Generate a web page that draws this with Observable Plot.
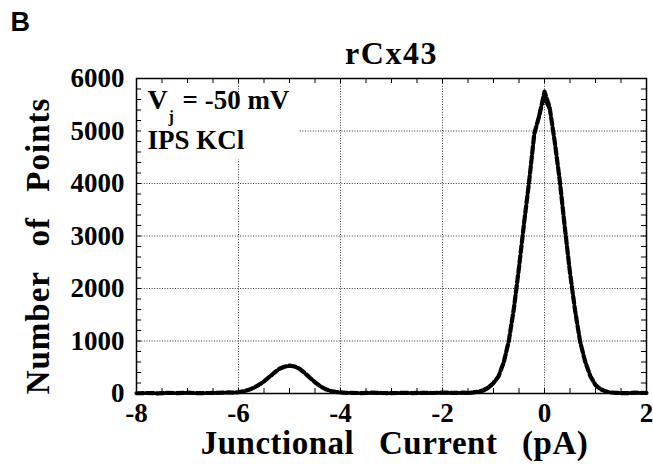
<!DOCTYPE html>
<html><head><meta charset="utf-8">
<script src="https://cdn.jsdelivr.net/npm/d3@7"></script>
<script src="https://cdn.jsdelivr.net/npm/@observablehq/plot@0.6"></script>
<style>
html,body{margin:0;padding:0;background:#fff;}
</style>
</head><body><div id="chart"></div>
<script>
// Junctional current (pA)
const current = [-8.0,-7.8,-7.6,-7.4,-7.2,-7.0,-6.8,-6.6,-6.4,-6.2,
  -6.1,-6.0,-5.9,-5.8,-5.7,-5.6,-5.5,-5.4,-5.3,-5.2,-5.1,-5.0,-4.9,-4.8,-4.7,-4.6,-4.5,-4.4,-4.3,-4.2,-4.1,-4.0,-3.9,
  -3.8,-3.6,-3.4,-3.2,-3.0,-2.8,-2.6,-2.4,-2.2,-2.0,-1.8,-1.6,
  -1.5,-1.4,-1.3,-1.2,-1.1,-1.0,-0.9,-0.8,-0.7,-0.6,-0.5,-0.4,-0.3,-0.2,-0.1,0.0,0.1,0.2,0.3,0.4,0.5,0.6,0.7,0.8,0.9,1.0,1.1,1.2,1.3,1.4,1.5,
  1.6,1.8,2.0];
// Measured histogram (number of points)
const counts = [5,10,3,12,8,15,6,10,14,20,
  15,25,40,70,110,165,230,310,395,470,510,530,515,470,390,300,215,140,85,50,30,20,12,
  12,8,15,10,6,12,9,14,10,18,12,15,
  10,20,35,60,120,200,330,590,1000,1620,2400,3250,4050,4950,5300,5750,5450,4800,4050,3150,2300,1580,980,600,330,160,80,40,20,12,8,
  6,15,10];
// Fitted curve
const fit = [0,0,0,0,0,0,0,0,1,4,
  8,16,31,57,95,150,219,299,381,453,502,520,502,453,381,299,219,150,95,57,31,16,8,
  4,1,0,0,0,0,0,0,0,0,0,0,
  2,6,16,38,84,175,338,608,1021,1607,2349,3209,4085,4860,5390,5580,5390,4860,4085,3209,2349,1607,1021,608,338,175,84,38,16,6,2,
  0,0,0];

const xTicks = [-8,-6,-4,-2,0,2];
const yTicks = [0,1000,2000,3000,4000,5000,6000];
const xGrid = [-6,-4,-2,0];
const yGrid = [1000,2000,3000,4000,5000];
const xMinor = [-8,-7.5,-7,-6.5,-6,-5.5,-5,-4.5,-4,-3.5,-3,-2.5,-2,-1.5,-1,-0.5,0,0.5,1,1.5,2];
const yMinor = [0,200,400,600,800,1000,1200,1400,1600,1800,2000,2200,2400,2600,2800,3000,3200,3400,3600,3800,4000,4200,4400,4600,4800,5000,5200,5400,5600,5800,6000];

const panelLabel = "B";
const title = "rCx43";
const xLabel = "Junctional Current (pA)";
const yLabel = "Number of Points";
const legendV = "V", legendSub = "j", legendRest = "= -50 mV", legendLine2 = "IPS KCl";
const legendBox = [{x1: -8, x2: -4.8, y1: 4450, y2: 5650}];

const rows = current.map((c, i) => ({current: c, counts: counts[i], fit: fit[i]}));
const serif = "'Liberation Serif','Times New Roman',serif";
const T = d => d;
const fmt = d => String(d);

const plot = Plot.plot({
  width: 653, height: 464,
  marginLeft: 136, marginRight: 7, marginTop: 78, marginBottom: 71,
  style: {fontFamily: serif, background: "white", color: "black", overflow: "visible"},
  x: {domain: [-8, 2]},
  y: {domain: [0, 6000]},
  marks: [
    Plot.gridX(xGrid, {stroke: "#000", strokeOpacity: 0.8, strokeDasharray: "1,1.6", strokeWidth: 1}),
    Plot.gridY(yGrid, {stroke: "#000", strokeOpacity: 0.8, strokeDasharray: "1,1.6", strokeWidth: 1}),
    Plot.rect(legendBox, {x1: "x1", x2: "x2", y1: "y1", y2: "y2", fill: "white"}),
    Plot.ruleX(xMinor, {y1: 0, y2: 95, stroke: "black"}),
    Plot.ruleX(xMinor, {y1: 5905, y2: 6000, stroke: "black"}),
    Plot.ruleY(yMinor, {x1: -8, x2: -7.9, stroke: "black"}),
    Plot.ruleY(yMinor, {x1: 1.9, x2: 2, stroke: "black"}),
    Plot.line(rows, {x: "current", y: "fit", stroke: "black", strokeWidth: 2}),
    Plot.line(rows, {x: "current", y: "counts", stroke: "black", strokeWidth: 4.2, strokeDasharray: "7,3"}),
    Plot.frame({stroke: "black", strokeWidth: 1.5}),
    Plot.axisX(xTicks, {tickSize: 0, tickPadding: 9, fontSize: 27, fontWeight: "bold", label: null, tickFormat: fmt}),
    Plot.axisY(yTicks, {tickSize: 0, tickPadding: 12, fontSize: 27, fontWeight: "bold", label: null, tickFormat: fmt}),
    Plot.text([title], {text: T, frameAnchor: "top", dy: -25, fontSize: 32, fontWeight: "bold", lineAnchor: "middle"}),
    Plot.text([panelLabel], {text: T, frameAnchor: "top-left", dx: -126, dy: -56, textAnchor: "start", lineAnchor: "middle", fontSize: 27, fontWeight: "bold", fontFamily: "'Liberation Sans',Arial,sans-serif"}),
    Plot.text([yLabel], {text: T, frameAnchor: "left", dx: -98, dy: 10, rotate: -90, textAnchor: "middle", fontSize: 33, fontWeight: "bold", lineAnchor: "middle"}),
    Plot.text([xLabel], {text: T, frameAnchor: "bottom", dx: 3, dy: 50, textAnchor: "middle", fontSize: 33, fontWeight: "bold", lineAnchor: "middle"}),
    Plot.text([legendV], {text: T, frameAnchor: "top-left", dx: 11, dy: 22, textAnchor: "start", lineAnchor: "middle", fontSize: 28, fontWeight: "bold"}),
    Plot.text([legendSub], {text: T, frameAnchor: "top-left", dx: 32, dy: 38, textAnchor: "start", lineAnchor: "middle", fontSize: 16, fontWeight: "bold"}),
    Plot.text([legendRest], {text: T, frameAnchor: "top-left", dx: 46, dy: 22, textAnchor: "start", lineAnchor: "middle", fontSize: 27, fontWeight: "bold"}),
    Plot.text([legendLine2], {text: T, frameAnchor: "top-left", dx: 11, dy: 62, textAnchor: "start", lineAnchor: "middle", fontSize: 27, fontWeight: "bold"})
  ]
});
document.getElementById("chart").appendChild(plot);
const sel = d3.select(plot).selectAll("text");
sel.filter(function() { return this.textContent === xLabel; }).style("word-spacing", "16px").style("letter-spacing", "0.5px");
sel.filter(function() { return this.textContent === yLabel; }).style("word-spacing", "16px").style("letter-spacing", "1px");
sel.filter(function() { return this.textContent === title; }).style("letter-spacing", "1.5px");
</script>
</body></html>
